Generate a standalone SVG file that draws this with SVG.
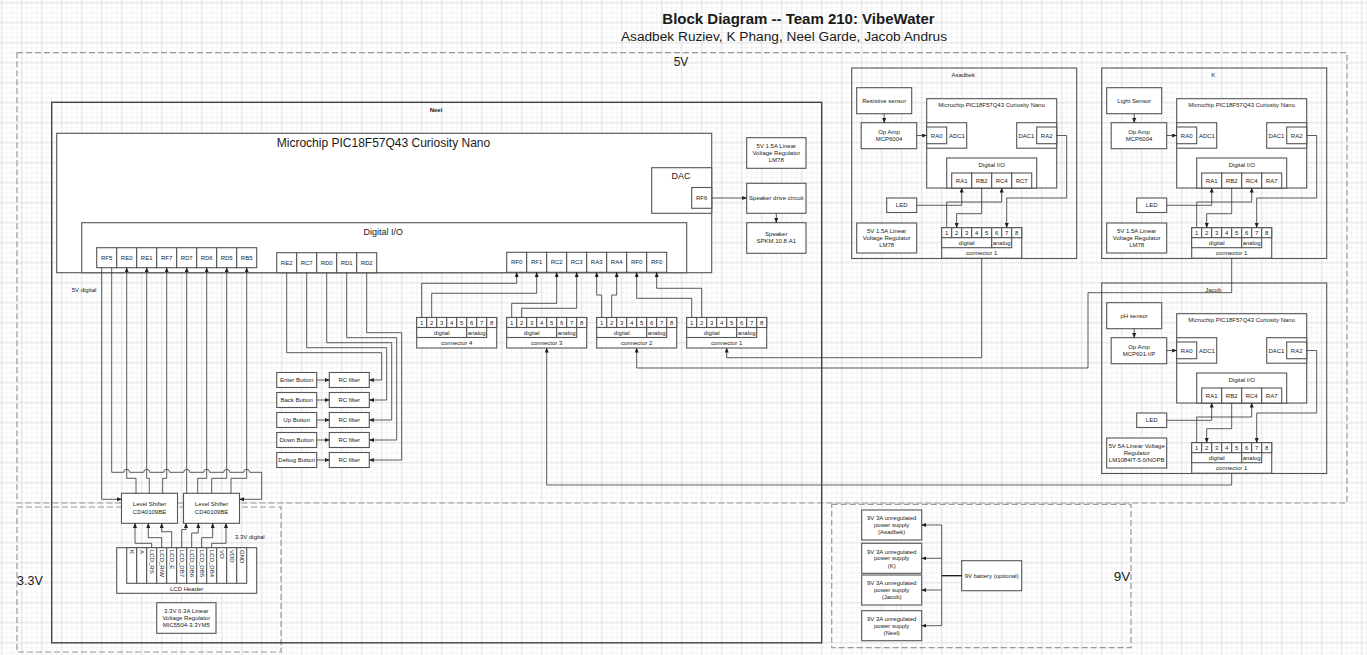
<svg xmlns="http://www.w3.org/2000/svg" width="1367" height="655" viewBox="0 0 1367 655">
<style>
.n{fill:#fff;stroke:#555;stroke-width:1.1}
.o{fill:none;stroke:#555;stroke-width:1.1}
.t{font-family:"Liberation Sans",Arial,Helvetica,sans-serif;font-size:6px;fill:#1a1a1a;text-anchor:middle}
.s{text-anchor:start}
.w{fill:none;stroke:#333;stroke-width:0.8}
.a{marker-end:url(#ar)}
.d{fill:none;stroke:#999;stroke-width:1.2;stroke-dasharray:6 3}
</style>
<defs>
<marker id="ar" markerWidth="5" markerHeight="4" refX="4.6" refY="2" orient="auto" markerUnits="userSpaceOnUse"><path d="M0,0 L5,2 L0,4 z" fill="#222"/></marker>
<pattern id="gm" width="5" height="5" patternUnits="userSpaceOnUse" x="-0.8" y="0.2"><path d="M0 2.5H5M2.5 0V5" stroke="#efefef" stroke-width="0.6" fill="none"/></pattern>
<pattern id="gM" width="20" height="20" patternUnits="userSpaceOnUse" x="-8.3" y="-7.3"><path d="M0 10H20M10 0V20" stroke="#dcdcdc" stroke-width="0.8" fill="none"/></pattern>
</defs>
<rect width="1367" height="655" fill="#fff"/>
<rect width="1367" height="655" fill="url(#gm)"/>
<rect width="1367" height="655" fill="url(#gM)"/>

<g id="title">
<text class="t" x="798.5" y="24" style="font-size:15px;font-weight:bold">Block Diagram -- Team 210: VibeWater</text>
<text class="t" x="784" y="40.8" style="font-size:13.7px">Asadbek Ruziev, K Phang, Neel Garde, Jacob Andrus</text>
</g>

<g id="regions">
<rect class="d" x="17" y="52.7" width="1330" height="450.3"/>
<text class="t" x="681" y="66.2" style="font-size:12px">5V</text>
<rect class="d" x="17" y="507" width="264" height="145"/>
<text class="t s" x="17" y="584.5" style="font-size:12.5px">3.3V</text>
<rect class="d" x="831.7" y="504.3" width="299.3" height="143.4"/>
<text class="t" x="1122" y="580.5" style="font-size:13.5px">9V</text>
</g>

<g id="neel">
<rect class="o" x="51.7" y="102.3" width="770" height="540.5" style="stroke-width:1.4;stroke:#444"/>
<text class="t" x="436" y="112" style="font-weight:bold">Neel</text>
</g>

<g id="neel-mcu">
<rect class="n" x="56.7" y="133.3" width="655" height="139.4"/>
<text class="t" x="383.5" y="146.9" style="font-size:12px">Microchip PIC18F57Q43 Curiosity Nano</text>
</g>
<g id="neel-dio">
<rect class="n" x="81.7" y="222.7" width="605" height="50"/>
<text class="t" x="383.3" y="234.9" style="font-size:9px">Digital I/O</text>
<rect class="n" x="96.7" y="247.7" width="20" height="20"/><text class="t" x="106.7" y="259.8">RF5</text>
<rect class="n" x="116.7" y="247.7" width="20" height="20"/><text class="t" x="126.7" y="259.8">RE0</text>
<rect class="n" x="136.7" y="247.7" width="20" height="20"/><text class="t" x="146.7" y="259.8">RE1</text>
<rect class="n" x="156.7" y="247.7" width="20" height="20"/><text class="t" x="166.7" y="259.8">RF7</text>
<rect class="n" x="176.7" y="247.7" width="20" height="20"/><text class="t" x="186.7" y="259.8">RD7</text>
<rect class="n" x="196.7" y="247.7" width="20" height="20"/><text class="t" x="206.7" y="259.8">RD6</text>
<rect class="n" x="216.7" y="247.7" width="20" height="20"/><text class="t" x="226.7" y="259.8">RD5</text>
<rect class="n" x="236.7" y="247.7" width="20" height="20"/><text class="t" x="246.7" y="259.8">RB5</text>
<rect class="n" x="276.7" y="252.7" width="20" height="20"/><text class="t" x="286.7" y="264.8">RE2</text>
<rect class="n" x="296.7" y="252.7" width="20" height="20"/><text class="t" x="306.7" y="264.8">RC7</text>
<rect class="n" x="316.7" y="252.7" width="20" height="20"/><text class="t" x="326.7" y="264.8">RD0</text>
<rect class="n" x="336.7" y="252.7" width="20" height="20"/><text class="t" x="346.7" y="264.8">RD1</text>
<rect class="n" x="356.7" y="252.7" width="20" height="20"/><text class="t" x="366.7" y="264.8">RD2</text>
<rect class="n" x="506.7" y="252.3" width="20" height="20"/><text class="t" x="516.7" y="264.4">RF0</text>
<rect class="n" x="526.7" y="252.3" width="20" height="20"/><text class="t" x="536.7" y="264.4">RF1</text>
<rect class="n" x="546.7" y="252.3" width="20" height="20"/><text class="t" x="556.7" y="264.4">RC2</text>
<rect class="n" x="566.7" y="252.3" width="20" height="20"/><text class="t" x="576.7" y="264.4">RC3</text>
<rect class="n" x="586.7" y="252.3" width="20" height="20"/><text class="t" x="596.7" y="264.4">RA3</text>
<rect class="n" x="606.7" y="252.3" width="20" height="20"/><text class="t" x="616.7" y="264.4">RA4</text>
<rect class="n" x="626.7" y="252.3" width="20" height="20"/><text class="t" x="636.7" y="264.4">RF0</text>
<rect class="n" x="646.7" y="252.3" width="20" height="20"/><text class="t" x="656.7" y="264.4">RF0</text>
</g>
<g id="neel-dac">
<rect class="n" x="651.7" y="167.7" width="60" height="45.6"/>
<text class="t" x="681" y="178.9" style="font-size:9px">DAC</text>
<rect class="n" x="691.7" y="187.5" width="20" height="20.8"/>
<text class="t" x="701.7" y="200">RF6</text>
</g>
<g id="neel-reg">
<rect class="n" x="746.7" y="137.7" width="59.3" height="30.6"/>
<text class="t" x="776.3" y="147.5">5V 1.5A  Linear</text>
<text class="t" x="776.3" y="154.8">Voltage Regulator</text>
<text class="t" x="776.3" y="162.1">LM78</text>
</g>
<g id="speaker-drive">
<rect class="n" x="746.7" y="183.3" width="59.3" height="30"/>
<text class="t" x="776.3" y="200.4">Speaker drive circuit</text>
</g>
<g id="speaker">
<rect class="n" x="746.7" y="222.7" width="59.3" height="30.6"/>
<text class="t" x="776.3" y="236.1">Speaker</text>
<text class="t" x="776.3" y="243.1">SPKM.10.8.A1</text>
</g>

<g id="buttons">
<rect class="n" x="276.7" y="372.5" width="40" height="15"/><text class="t" x="296.7" y="382.1">Enter Button</text>
<rect class="n" x="276.7" y="392.5" width="40" height="15"/><text class="t" x="296.7" y="402.1">Back Button</text>
<rect class="n" x="276.7" y="412.5" width="40" height="15"/><text class="t" x="296.7" y="422.1">Up Button</text>
<rect class="n" x="276.7" y="432.5" width="40" height="15"/><text class="t" x="296.7" y="442.1">Down Button</text>
<rect class="n" x="276.7" y="452.5" width="40" height="15"/><text class="t" x="296.7" y="462.1">Debug Button</text>
</g>
<g id="rc-filters">
<rect class="n" x="329.3" y="372.5" width="40" height="15"/><text class="t" x="349.3" y="382.1">RC filter</text>
<rect class="n" x="329.3" y="392.5" width="40" height="15"/><text class="t" x="349.3" y="402.1">RC filter</text>
<rect class="n" x="329.3" y="412.5" width="40" height="15"/><text class="t" x="349.3" y="422.1">RC filter</text>
<rect class="n" x="329.3" y="432.5" width="40" height="15"/><text class="t" x="349.3" y="442.1">RC filter</text>
<rect class="n" x="329.3" y="452.5" width="40" height="15"/><text class="t" x="349.3" y="462.1">RC filter</text>
</g>

<g id="neel-conn4" transform="translate(416.7,317.5)">
<rect class="n" width="80" height="30.5"/>
<rect class="n" width="10" height="10"/><rect class="n" x="10" width="10" height="10"/><rect class="n" x="20" width="10" height="10"/><rect class="n" x="30" width="10" height="10"/><rect class="n" x="40" width="10" height="10"/><rect class="n" x="50" width="10" height="10"/><rect class="n" x="60" width="10" height="10"/><rect class="n" x="70" width="10" height="10"/>
<text class="t" x="5" y="7.2">1</text><text class="t" x="15" y="7.2">2</text><text class="t" x="25" y="7.2">3</text><text class="t" x="35" y="7.2">4</text><text class="t" x="45" y="7.2">5</text><text class="t" x="55" y="7.2">6</text><text class="t" x="65" y="7.2">7</text><text class="t" x="75" y="7.2">8</text>
<rect class="n" y="10" width="50" height="10"/><rect class="n" x="50" y="10" width="20" height="10"/>
<text class="t" x="25" y="17.2">digital</text><text class="t" x="60" y="17.2">analog</text>
<text class="t" x="40" y="27.4">connector 4</text>
</g>
<g id="neel-conn3" transform="translate(506.7,317.5)">
<rect class="n" width="80" height="30.5"/>
<rect class="n" width="10" height="10"/><rect class="n" x="10" width="10" height="10"/><rect class="n" x="20" width="10" height="10"/><rect class="n" x="30" width="10" height="10"/><rect class="n" x="40" width="10" height="10"/><rect class="n" x="50" width="10" height="10"/><rect class="n" x="60" width="10" height="10"/><rect class="n" x="70" width="10" height="10"/>
<text class="t" x="5" y="7.2">1</text><text class="t" x="15" y="7.2">2</text><text class="t" x="25" y="7.2">3</text><text class="t" x="35" y="7.2">4</text><text class="t" x="45" y="7.2">5</text><text class="t" x="55" y="7.2">6</text><text class="t" x="65" y="7.2">7</text><text class="t" x="75" y="7.2">8</text>
<rect class="n" y="10" width="50" height="10"/><rect class="n" x="50" y="10" width="20" height="10"/>
<text class="t" x="25" y="17.2">digital</text><text class="t" x="60" y="17.2">analog</text>
<text class="t" x="40" y="27.4">connector 3</text>
</g>
<g id="neel-conn2" transform="translate(596.7,317.5)">
<rect class="n" width="80" height="30.5"/>
<rect class="n" width="10" height="10"/><rect class="n" x="10" width="10" height="10"/><rect class="n" x="20" width="10" height="10"/><rect class="n" x="30" width="10" height="10"/><rect class="n" x="40" width="10" height="10"/><rect class="n" x="50" width="10" height="10"/><rect class="n" x="60" width="10" height="10"/><rect class="n" x="70" width="10" height="10"/>
<text class="t" x="5" y="7.2">1</text><text class="t" x="15" y="7.2">2</text><text class="t" x="25" y="7.2">3</text><text class="t" x="35" y="7.2">4</text><text class="t" x="45" y="7.2">5</text><text class="t" x="55" y="7.2">6</text><text class="t" x="65" y="7.2">7</text><text class="t" x="75" y="7.2">8</text>
<rect class="n" y="10" width="50" height="10"/><rect class="n" x="50" y="10" width="20" height="10"/>
<text class="t" x="25" y="17.2">digital</text><text class="t" x="60" y="17.2">analog</text>
<text class="t" x="40" y="27.4">connector 2</text>
</g>
<g id="neel-conn1" transform="translate(686.7,317.5)">
<rect class="n" width="80" height="30.5"/>
<rect class="n" width="10" height="10"/><rect class="n" x="10" width="10" height="10"/><rect class="n" x="20" width="10" height="10"/><rect class="n" x="30" width="10" height="10"/><rect class="n" x="40" width="10" height="10"/><rect class="n" x="50" width="10" height="10"/><rect class="n" x="60" width="10" height="10"/><rect class="n" x="70" width="10" height="10"/>
<text class="t" x="5" y="7.2">1</text><text class="t" x="15" y="7.2">2</text><text class="t" x="25" y="7.2">3</text><text class="t" x="35" y="7.2">4</text><text class="t" x="45" y="7.2">5</text><text class="t" x="55" y="7.2">6</text><text class="t" x="65" y="7.2">7</text><text class="t" x="75" y="7.2">8</text>
<rect class="n" y="10" width="50" height="10"/><rect class="n" x="50" y="10" width="20" height="10"/>
<text class="t" x="25" y="17.2">digital</text><text class="t" x="60" y="17.2">analog</text>
<text class="t" x="40" y="27.4">connector 1</text>
</g>

<g id="labels-digital">
<text class="t s" x="71.7" y="292.1">5V digital</text>
<text class="t s" x="235" y="538.8">3.3V digital</text>
</g>
<g id="level-shifter-1">
<rect class="n" x="121.5" y="493.3" width="56" height="30"/>
<text class="t" x="149.5" y="505.5">Level Shifter</text>
<text class="t" x="149.5" y="513.8">CD40109BE</text>
</g>
<g id="level-shifter-2">
<rect class="n" x="183.5" y="493.3" width="56" height="30"/>
<text class="t" x="211.5" y="505.5">Level Shifter</text>
<text class="t" x="211.5" y="513.8">CD40109BE</text>
</g>
<g id="lcd-header">
<rect class="n" x="116.7" y="547.7" width="140" height="45.6"/>
<rect class="n" x="126.7" y="547.7" width="10" height="35.6"/><rect class="n" x="136.7" y="547.7" width="10" height="35.6"/><rect class="n" x="146.7" y="547.7" width="10" height="35.6"/><rect class="n" x="156.7" y="547.7" width="10" height="35.6"/><rect class="n" x="166.7" y="547.7" width="10" height="35.6"/><rect class="n" x="176.7" y="547.7" width="10" height="35.6"/><rect class="n" x="186.7" y="547.7" width="10" height="35.6"/><rect class="n" x="196.7" y="547.7" width="10" height="35.6"/><rect class="n" x="206.7" y="547.7" width="10" height="35.6"/><rect class="n" x="216.7" y="547.7" width="10" height="35.6"/><rect class="n" x="226.7" y="547.7" width="10" height="35.6"/><rect class="n" x="236.7" y="547.7" width="10" height="35.6"/>
<g class="t s" style="dominant-baseline:central">
<text transform="translate(131.7,550) rotate(90)">K</text>
<text transform="translate(141.7,550) rotate(90)">A</text>
<text transform="translate(151.7,550) rotate(90)">LCD_RS</text>
<text transform="translate(161.7,550) rotate(90)">LCD_R/W</text>
<text transform="translate(171.7,550) rotate(90)">LCD_E</text>
<text transform="translate(181.7,550) rotate(90)">LCD_DB7</text>
<text transform="translate(191.7,550) rotate(90)">LCD_DB6</text>
<text transform="translate(201.7,550) rotate(90)">LCD_DB5</text>
<text transform="translate(211.7,550) rotate(90)">LCD_DB4</text>
<text transform="translate(221.7,550) rotate(90)">VO</text>
<text transform="translate(231.7,550) rotate(90)">VDD</text>
<text transform="translate(241.7,550) rotate(90)">GND</text>
</g>
<text class="t" x="186.7" y="590.6">LCD Header</text>
</g>
<g id="reg-3v3">
<rect class="n" x="156.7" y="602.7" width="59.3" height="30.6"/>
<text class="t" x="186.3" y="612.8">3.3V 0.3A Linear</text>
<text class="t" x="186.3" y="619.8">Voltage Regulator</text>
<text class="t" x="186.3" y="626.8">MIC5504-3.3YM5</text>
</g>

<g id="asadbek">
<rect class="o" x="851.7" y="68" width="225" height="190.5"/>
<text class="t" x="963.3" y="77.4">Asadbek</text>
<rect class="n" x="856.7" y="87.7" width="55" height="26"/><text class="t" x="884.2" y="102.5">Resistive sensor</text>
<rect class="n" x="861.2" y="122.7" width="55.5" height="26"/><text class="t" x="889" y="134.1">Op Amp</text><text class="t" x="889" y="141.4">MCP6004</text>
<rect class="n" x="926.7" y="98.7" width="130" height="89.3"/><text class="t" x="991.7" y="107.4">Microchip PIC18F57Q43 Curiosity Nano</text>
<rect class="n" x="926.7" y="122.7" width="40" height="25.5"/><rect class="n" x="926.7" y="127" width="20" height="16.7"/><text class="t" x="936.7" y="137.6">RA0</text><text class="t" x="956.9" y="137.6">ADC1</text>
<rect class="n" x="1016.7" y="122.7" width="40" height="25.5"/><text class="t" x="1026.4" y="137.6">DAC1</text><rect class="n" x="1036.7" y="127" width="20" height="16.7"/><text class="t" x="1046.7" y="137.6">RA2</text>
<rect class="n" x="946.7" y="158" width="90" height="30"/><text class="t" x="991.7" y="167.4">Digital I/O</text>
<rect class="n" x="951.7" y="173" width="20" height="15"/><text class="t" x="961.7" y="182.6">RA1</text>
<rect class="n" x="971.7" y="173" width="20" height="15"/><text class="t" x="981.7" y="182.6">RB2</text>
<rect class="n" x="991.7" y="173" width="20" height="15"/><text class="t" x="1001.7" y="182.6">RC4</text>
<rect class="n" x="1011.7" y="173" width="20" height="15"/><text class="t" x="1021.7" y="182.6">RC7</text>
<rect class="n" x="886.7" y="198" width="30" height="14.5"/><text class="t" x="901.7" y="207.3">LED</text>
<rect class="n" x="856.7" y="223" width="60" height="30"/><text class="t" x="886.7" y="233.4">5V 1.5A  Linear</text><text class="t" x="886.7" y="240.4">Voltage Regulator</text><text class="t" x="886.7" y="247.4">LM78</text>
<g transform="translate(941.7,227.7)">
<rect class="n" width="80" height="30.5"/>
<rect class="n" width="10" height="10"/><rect class="n" x="10" width="10" height="10"/><rect class="n" x="20" width="10" height="10"/><rect class="n" x="30" width="10" height="10"/><rect class="n" x="40" width="10" height="10"/><rect class="n" x="50" width="10" height="10"/><rect class="n" x="60" width="10" height="10"/><rect class="n" x="70" width="10" height="10"/>
<text class="t" x="5" y="7.2">1</text><text class="t" x="15" y="7.2">2</text><text class="t" x="25" y="7.2">3</text><text class="t" x="35" y="7.2">4</text><text class="t" x="45" y="7.2">5</text><text class="t" x="55" y="7.2">6</text><text class="t" x="65" y="7.2">7</text><text class="t" x="75" y="7.2">8</text>
<rect class="n" y="10" width="50" height="10"/><rect class="n" x="50" y="10" width="20" height="10"/>
<text class="t" x="25" y="17.2">digital</text><text class="t" x="60" y="17.2">analog</text>
<text class="t" x="40" y="27.4">connector 1</text>
</g>
</g>

<g id="k" transform="translate(250,0)">
<rect class="o" x="851.7" y="68" width="225" height="190.5"/>
<text class="t" x="963.3" y="77.4">K</text>
<rect class="n" x="856.7" y="87.7" width="55" height="26"/><text class="t" x="884.2" y="102.5">Light Sensor</text>
<rect class="n" x="861.2" y="122.7" width="55.5" height="26"/><text class="t" x="889" y="134.1">Op Amp</text><text class="t" x="889" y="141.4">MCP6004</text>
<rect class="n" x="926.7" y="98.7" width="130" height="89.3"/><text class="t" x="991.7" y="107.4">Microchip PIC18F57Q43 Curiosity Nano</text>
<rect class="n" x="926.7" y="122.7" width="40" height="25.5"/><rect class="n" x="926.7" y="127" width="20" height="16.7"/><text class="t" x="936.7" y="137.6">RA0</text><text class="t" x="956.9" y="137.6">ADC1</text>
<rect class="n" x="1016.7" y="122.7" width="40" height="25.5"/><text class="t" x="1026.4" y="137.6">DAC1</text><rect class="n" x="1036.7" y="127" width="20" height="16.7"/><text class="t" x="1046.7" y="137.6">RA2</text>
<rect class="n" x="946.7" y="158" width="90" height="30"/><text class="t" x="991.7" y="167.4">Digital I/O</text>
<rect class="n" x="951.7" y="173" width="20" height="15"/><text class="t" x="961.7" y="182.6">RA1</text>
<rect class="n" x="971.7" y="173" width="20" height="15"/><text class="t" x="981.7" y="182.6">RB2</text>
<rect class="n" x="991.7" y="173" width="20" height="15"/><text class="t" x="1001.7" y="182.6">RC4</text>
<rect class="n" x="1011.7" y="173" width="20" height="15"/><text class="t" x="1021.7" y="182.6">RA7</text>
<rect class="n" x="886.7" y="198" width="30" height="14.5"/><text class="t" x="901.7" y="207.3">LED</text>
<rect class="n" x="856.7" y="223" width="60" height="30"/><text class="t" x="886.7" y="233.4">5V 1.5A  Linear</text><text class="t" x="886.7" y="240.4">Voltage Regulator</text><text class="t" x="886.7" y="247.4">LM78</text>
<g transform="translate(941.7,227.7)">
<rect class="n" width="80" height="30.5"/>
<rect class="n" width="10" height="10"/><rect class="n" x="10" width="10" height="10"/><rect class="n" x="20" width="10" height="10"/><rect class="n" x="30" width="10" height="10"/><rect class="n" x="40" width="10" height="10"/><rect class="n" x="50" width="10" height="10"/><rect class="n" x="60" width="10" height="10"/><rect class="n" x="70" width="10" height="10"/>
<text class="t" x="5" y="7.2">1</text><text class="t" x="15" y="7.2">2</text><text class="t" x="25" y="7.2">3</text><text class="t" x="35" y="7.2">4</text><text class="t" x="45" y="7.2">5</text><text class="t" x="55" y="7.2">6</text><text class="t" x="65" y="7.2">7</text><text class="t" x="75" y="7.2">8</text>
<rect class="n" y="10" width="50" height="10"/><rect class="n" x="50" y="10" width="20" height="10"/>
<text class="t" x="25" y="17.2">digital</text><text class="t" x="60" y="17.2">analog</text>
<text class="t" x="40" y="27.4">connector 1</text>
</g>
</g>

<g id="jacob" transform="translate(250,215)">
<rect class="o" x="851.7" y="68" width="225" height="190.5"/>
<text class="t" x="963.3" y="77.4">Jacob</text>
<rect class="n" x="856.7" y="87.7" width="55" height="26"/><text class="t" x="884.2" y="102.5">pH sensor</text>
<rect class="n" x="861.2" y="122.7" width="55.5" height="26"/><text class="t" x="889" y="134.1">Op Amp</text><text class="t" x="889" y="141.4">MCP601-I/P</text>
<rect class="n" x="926.7" y="98.7" width="130" height="89.3"/><text class="t" x="991.7" y="107.4">Microchip PIC18F57Q43 Curiosity Nano</text>
<rect class="n" x="926.7" y="122.7" width="40" height="25.5"/><rect class="n" x="926.7" y="127" width="20" height="16.7"/><text class="t" x="936.7" y="137.6">RA0</text><text class="t" x="956.9" y="137.6">ADC1</text>
<rect class="n" x="1016.7" y="122.7" width="40" height="25.5"/><text class="t" x="1026.4" y="137.6">DAC1</text><rect class="n" x="1036.7" y="127" width="20" height="16.7"/><text class="t" x="1046.7" y="137.6">RA2</text>
<rect class="n" x="946.7" y="158" width="90" height="30"/><text class="t" x="991.7" y="167.4">Digital I/O</text>
<rect class="n" x="951.7" y="173" width="20" height="15"/><text class="t" x="961.7" y="182.6">RA1</text>
<rect class="n" x="971.7" y="173" width="20" height="15"/><text class="t" x="981.7" y="182.6">RB2</text>
<rect class="n" x="991.7" y="173" width="20" height="15"/><text class="t" x="1001.7" y="182.6">RC4</text>
<rect class="n" x="1011.7" y="173" width="20" height="15"/><text class="t" x="1021.7" y="182.6">RA7</text>
<rect class="n" x="886.7" y="198" width="30" height="14.5"/><text class="t" x="901.7" y="207.3">LED</text>
<rect class="n" x="856.7" y="223" width="60" height="30"/><text class="t" x="886.7" y="233.4">5V 5A  Linear Voltage</text><text class="t" x="886.7" y="240.4">Regulator</text><text class="t" x="886.7" y="247.4">LM1084IT-5.0/NOPB</text>
<g transform="translate(941.7,227.7)">
<rect class="n" width="80" height="30.5"/>
<rect class="n" width="10" height="10"/><rect class="n" x="10" width="10" height="10"/><rect class="n" x="20" width="10" height="10"/><rect class="n" x="30" width="10" height="10"/><rect class="n" x="40" width="10" height="10"/><rect class="n" x="50" width="10" height="10"/><rect class="n" x="60" width="10" height="10"/><rect class="n" x="70" width="10" height="10"/>
<text class="t" x="5" y="7.2">1</text><text class="t" x="15" y="7.2">2</text><text class="t" x="25" y="7.2">3</text><text class="t" x="35" y="7.2">4</text><text class="t" x="45" y="7.2">5</text><text class="t" x="55" y="7.2">6</text><text class="t" x="65" y="7.2">7</text><text class="t" x="75" y="7.2">8</text>
<rect class="n" y="10" width="50" height="10"/><rect class="n" x="50" y="10" width="20" height="10"/>
<text class="t" x="25" y="17.2">digital</text><text class="t" x="60" y="17.2">analog</text>
<text class="t" x="40" y="27.4">connector 1</text>
</g>
</g>

<g id="power-9v">
<rect class="n" x="861.7" y="510" width="60" height="30"/><text class="t" x="891.7" y="520.4">9V 3A unregulated</text><text class="t" x="891.7" y="527.1">power supply</text><text class="t" x="891.7" y="534.4">(Asadbek)</text>
<rect class="n" x="861.7" y="543.3" width="60" height="30"/><text class="t" x="891.7" y="553.7">9V 3A unregulated</text><text class="t" x="891.7" y="560.4">power supply</text><text class="t" x="891.7" y="567.7">(K)</text>
<rect class="n" x="861.7" y="575" width="60" height="30"/><text class="t" x="891.7" y="585.4">9V 3A unregulated</text><text class="t" x="891.7" y="592.1">power supply</text><text class="t" x="891.7" y="599.4">(Jacob)</text>
<rect class="n" x="861.7" y="610.7" width="60" height="30"/><text class="t" x="891.7" y="621.1">9V 3A unregulated</text><text class="t" x="891.7" y="627.8">power supply</text><text class="t" x="891.7" y="635.1">(Neel)</text>
</g>
<g id="battery">
<rect class="n" x="961.7" y="560.7" width="60" height="30"/><text class="t" x="991.7" y="577.8">9V battery (optional)</text>
</g>

<g id="connectors">
<path class="w a" d="M711.7,198 H746.7"/>
<path class="w a" d="M776.3,213.3 V222.7"/>
<path class="w a" d="M316.7,380 H329.3"/>
<path class="w a" d="M316.7,400 H329.3"/>
<path class="w a" d="M316.7,420 H329.3"/>
<path class="w a" d="M316.7,440 H329.3"/>
<path class="w a" d="M316.7,460 H329.3"/>
<path class="w a" d="M286.7,272.7 V352.7 H381.7 V380 H369.3"/>
<path class="w a" d="M306.7,272.7 V347.7 H386.7 V400 H369.3"/>
<path class="w a" d="M326.7,272.7 V342.7 H391.7 V420 H369.3"/>
<path class="w a" d="M346.7,272.7 V337.7 H396.7 V440 H369.3"/>
<path class="w a" d="M366.7,272.7 V332.7 H401.7 V460 H369.3"/>
<path class="w a" d="M421.7,317.5 V283.3 H516.7 V272.3"/>
<path class="w a" d="M431.7,317.5 V293.3 H536.7 V272.3"/>
<path class="w a" d="M511.7,317.5 V303.3 H556.7 V272.3"/>
<path class="w a" d="M521.7,317.5 V308.3 H576.7 V272.3"/>
<path class="w a" d="M601.7,317.5 V295 H596.7 V272.3"/>
<path class="w a" d="M611.7,317.5 V295 H616.7 V272.3"/>
<path class="w a" d="M691.7,317.5 V298.3 H636.7 V272.3"/>
<path class="w a" d="M701.7,317.5 V288.3 H656.7 V272.3"/>
<path class="w a" d="M981.7,258.2 V357.7 H726.7 V348"/>
<path class="w a" d="M1231.7,258.2 V292.7 H1088 V368 H636.7 V348"/>
<path class="w a" d="M1231.7,473.2 V485 H546.7 V348"/>
<path class="w a" d="M101.7,267.7 V499.3 H121.5"/>
<path class="w a" d="M111.7,267.7 V472.3 H123.7 a3,3 0 0 1 6,0 H143.7 a3,3 0 0 1 6,0 H163.7 a3,3 0 0 1 6,0 H183.7 a3,3 0 0 1 6,0 H203.7 a3,3 0 0 1 6,0 H223.7 a3,3 0 0 1 6,0 H243.7 a3,3 0 0 1 6,0 H261.7 V499.3 H239.5"/>
<path class="w a" d="M136,493.3 V478.3 H126.7 V267.7"/>
<path class="w a" d="M149.3,493.3 V478.3 H146.7 V267.7"/>
<path class="w a" d="M162.7,493.3 V478.3 H166.7 V267.7"/>
<path class="w a" d="M186.7,493.3 V267.7"/>
<path class="w a" d="M197.7,493.3 V478.3 H206.7 V267.7"/>
<path class="w a" d="M211.7,493.3 V478.3 H226.7 V267.7"/>
<path class="w a" d="M231,493.3 V478.3 H246.7 V267.7"/>
<path class="w a" d="M151.7,547.7 V543.3 H135 V523.3"/>
<path class="w a" d="M161.7,547.7 V537.7 H148.3 V523.3"/>
<path class="w a" d="M171.7,547.7 V531.7 H161.7 V523.3"/>
<path class="w a" d="M181.7,547.7 V529.5 H186 V523.3"/>
<path class="w a" d="M191.7,547.7 V533 H198.3 V523.3"/>
<path class="w a" d="M201.7,547.7 V537.7 H212.7 V523.3"/>
<path class="w a" d="M211.7,547.7 V543.3 H226 V523.3"/>
<path class="w" d="M961.7,575.7 H941.7" style="stroke-width:1.3;stroke:#111"/>
<path class="w" d="M941.7,525 V625.7"/>
<path class="w a" d="M941.7,525 H921.7"/>
<path class="w a" d="M941.7,558.3 H921.7"/>
<path class="w a" d="M941.7,590 H921.7"/>
<path class="w a" d="M941.7,625.7 H921.7"/>
<g id="team-wires-asadbek">
<path class="w a" d="M884.2,113.7 V122.7"/>
<path class="w a" d="M916.7,135.5 H926.7"/>
<path class="w a" d="M916.7,205.3 H961.7 V188"/>
<path class="w a" d="M946.7,227.7 V202 H1001.7 V188"/>
<path class="w a" d="M981.7,188 V213.7 H956.7 V227.7"/>
<path class="w a" d="M1056.7,135.5 H1066.7 V198 H1006.7 V227.7"/>
</g>
<g id="team-wires-k" transform="translate(250,0)">
<path class="w a" d="M884.2,113.7 V122.7"/>
<path class="w a" d="M916.7,135.5 H926.7"/>
<path class="w a" d="M916.7,205.3 H961.7 V188"/>
<path class="w a" d="M946.7,227.7 V202 H1001.7 V188"/>
<path class="w a" d="M981.7,188 V213.7 H956.7 V227.7"/>
<path class="w a" d="M1056.7,135.5 H1066.7 V198 H1006.7 V227.7"/>
</g>
<g id="team-wires-jacob" transform="translate(250,215)">
<path class="w a" d="M884.2,113.7 V122.7"/>
<path class="w a" d="M916.7,135.5 H926.7"/>
<path class="w a" d="M916.7,205.3 H961.7 V188"/>
<path class="w a" d="M946.7,227.7 V202 H1001.7 V188"/>
<path class="w a" d="M981.7,188 V213.7 H956.7 V227.7"/>
<path class="w a" d="M1056.7,135.5 H1066.7 V198 H1006.7 V227.7"/>
</g>
</g>
</svg>
